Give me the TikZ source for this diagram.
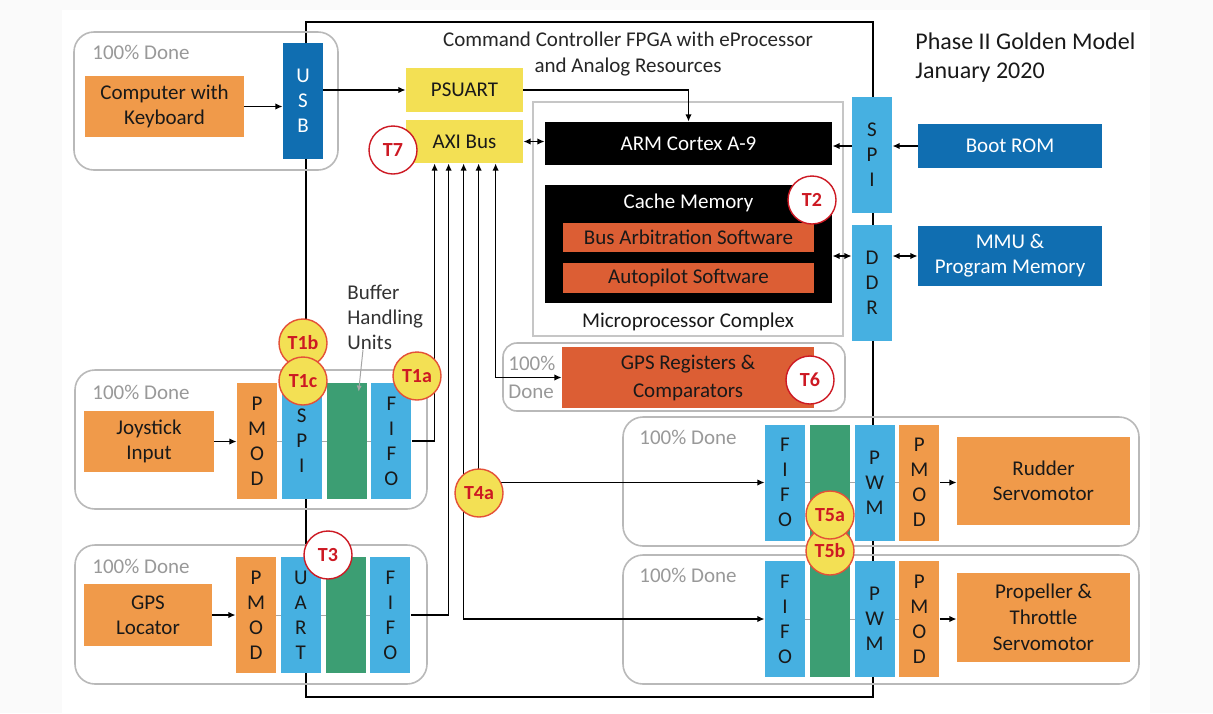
\documentclass[tikz,border=0pt]{standalone}
\usepackage{fontspec}
\setmainfont{Carlito}
\usetikzlibrary{positioning,arrows.meta,backgrounds}

\definecolor{ornge}{RGB}{240,154,74}
\definecolor{rust}{RGB}{220,94,52}
\definecolor{navy}{RGB}{16,110,177}
\definecolor{sky}{RGB}{70,176,225}
\definecolor{jade}{RGB}{60,158,115}
\definecolor{gold}{RGB}{243,224,84}
\definecolor{tred}{RGB}{205,25,35}
\definecolor{tline}{RGB}{228,80,55}
\definecolor{ink}{RGB}{25,25,25}

\begin{document}
\begin{tikzpicture}[x=0.5pt,y=-0.5pt,
		font=\fontsize{10.5}{12.5}\selectfont,text=ink,
		wh/.style 2 args={minimum width=#1*0.5pt,minimum height=#2*0.5pt,inner sep=0pt},
		blk/.style={align=center},
		hw/.style={blk,fill=ornge},
		sw/.style={blk,fill=rust},
		mem/.style={blk,fill=navy,text=white},
		cpu/.style={blk,fill=black,text=white},
		bus/.style={blk,fill=gold},
		port/.style={blk,fill=sky,wh={40}{116}},
		buf/.style={blk,fill=jade,wh={40}{116}},
		pmod/.style={port,fill=ornge},
		done/.style={draw=gray!55,line width=0.8pt,rounded corners=10pt,wh={#1}},
		pct/.style={text=gray!80,anchor=west,inner sep=0pt},
		tag/.style={circle,draw=tred,line width=0.7pt,fill=white,text=tred,
			font=\fontsize{10}{12}\selectfont\bfseries,minimum size=24pt,inner sep=0pt},
		tagy/.style={tag,fill=gold,draw=tline},
		arr/.style={line width=0.85pt,-{Latex[length=3.6pt,width=3.2pt]}},
		biarr/.style={line width=0.85pt,{Latex[length=3.6pt,width=3.2pt]}-{Latex[length=3.6pt,width=3.2pt]}},
		thru/.style={gray!70,line width=0.5pt}]
	\useasboundingbox (0,0) rectangle (1213,713);
	\begin{scope}[on background layer]
		\fill[gray!4] (0,0) rectangle (1213,713);
		\fill[white] (62,10) rectangle (1150,713);
	\end{scope}
	% FPGA outline
	\node[draw,line width=1.2pt,wh={567}{675}] (fpga) at (589.5,359.5) {};
	\node[align=center,text=black!85,font=\fontsize{10.5}{13}\selectfont] (ttl) at (628,54)
		{Command Controller FPGA with eProcessor\\and Analog Resources};
	\node[anchor=west,align=left,inner sep=0pt,font=\fontsize{12}{14.5}\selectfont] (phase) at (915,57.5)
		{Phase II Golden Model\\January 2020};
	% Groups
	\node[done,wh={264}{138}] (g0) at (206,101) {};
	\node[done,wh={352}{139}] (g1) at (251,439.5) {};
	\node[done,wh={352}{139}] (g2) at (251,614.5) {};
	\node[done,wh={342}{68},rounded corners=7pt] (g3) at (674,377) {};
	\node[done,wh={516}{129}] (g4) at (881,481.5) {};
	\node[done,wh={516}{129}] (g5) at (881,619.5) {};
	\node[pct] (p0) at (92,52) {100\% Done};
	\node[pct] (p1) at (92,392) {100\% Done};
	\node[pct] (p2) at (92,566) {100\% Done};
	\node[pct,align=left,font=\fontsize{10.5}{14}\selectfont] (p3) at (508,377) {100\%\\Done};
	\node[pct] (p4) at (639,437) {100\% Done};
	\node[pct] (p5) at (639,575) {100\% Done};
	% Processor side
	\node[hw,wh={159}{61}] (comp) at (164.5,106.5) {Computer with\\Keyboard};
	\node[mem,wh={40}{116}] (usb) at (303,101) {U\\S\\B};
	\node[bus,wh={117}{44}] (psuart) at (464.5,90) {PSUART};
	\node[bus,wh={117}{43}] (axi) at (464.5,141.5) {AXI Bus};
	\node[draw=gray!45,line width=0.6pt,wh={310}{234}] (mpc) at (688,219) {};
	\node (mpclbl) at (688,322) {Microprocessor Complex};
	\node[cpu,wh={287}{43}] (arm) at (688.5,143.5) {ARM Cortex A-9};
	\node[cpu,wh={287}{118}] (cache) at (688.5,244) {};
	\node[text=white] (cachelbl) at (688.5,203) {Cache Memory};
	\node[sw,wh={251}{29}] (busarb) at (688.5,237.5) {Bus Arbitration Software};
	\node[sw,wh={251}{30}] (autop) at (688.5,278) {Autopilot Software};
	\node[port] (spir) at (872,155) {S\\P\\I};
	\node[port] (ddr) at (872,283) {D\\D\\R};
	\node[mem,wh={184}{44}] (boot) at (1010,146) {Boot ROM};
	\node[mem,wh={184}{60}] (mmu) at (1010,256) {MMU \&\\Program Memory};
	\node[sw,wh={252}{61},font=\fontsize{10.5}{14}\selectfont] (gpsreg) at (688,377.5) {GPS Registers \&\\Comparators};
	% Joystick chain
	\node[hw,wh={130}{61}] (joy) at (149,441.5) {Joystick\\Input};
	\node[pmod] (jpmod) at (257,441) {P\\M\\O\\D};
	\node[port,right=2pt of jpmod] (jspi) {S\\P\\I};
	\node[buf,right=2pt of jspi] (jbuf) {};
	\node[port,right=2pt of jbuf] (jfifo) {F\\I\\F\\O};
	\node[anchor=west,align=left,inner sep=0pt,text=black!80] (bufnote) at (347,317) {Buffer\\Handling\\Units};
	% GPS chain
	\node[hw,wh={128}{62}] (gps) at (148,615) {GPS\\Locator};
	\node[pmod] (gpmod) at (256,615) {P\\M\\O\\D};
	\node[port,right=2pt of gpmod] (guart) {U\\A\\R\\T};
	\node[buf,right=2pt of guart] (gbuf) {};
	\node[port,right=2pt of gbuf] (gfifo) {F\\I\\F\\O};
	% Rudder chain
	\node[port] (rfifo) at (785,482.5) {F\\I\\F\\O};
	\node[buf,right=2pt of rfifo] (rbuf) {};
	\node[port,right=2pt of rbuf] (rpwm) {P\\W\\M};
	\node[pmod,right=2pt of rpwm] (rpmod) {P\\M\\O\\D};
	\node[hw,wh={173}{88}] (rudder) at (1043.5,481) {Rudder\\Servomotor};
	% Propeller chain
	\node[port] (pfifo) at (785,619) {F\\I\\F\\O};
	\node[buf,right=2pt of pfifo] (pbuf) {};
	\node[port,right=2pt of pbuf] (ppwm) {P\\W\\M};
	\node[pmod,right=2pt of ppwm] (ppmod) {P\\M\\O\\D};
	\node[hw,wh={173}{89},font=\fontsize{10.5}{13}\selectfont] (prop) at (1043.5,617.5) {Propeller \&\\Throttle\\Servomotor};
	% Connectors
	\foreach \n/\dx in {1/29,2/43,3/58,4/73,5/90}
		\coordinate (a\n) at ([xshift=\dx*0.5pt]axi.south west);
	\draw[arr] (comp.east) -- (comp.east -| usb.west);
	\draw[arr] (usb.east |- psuart) -- (psuart.west);
	\draw[arr] (psuart.east) -| (arm.north);
	\draw[biarr] (axi.east) -- (axi.east -| arm.west);
	\draw[arr] (boot.west) -- (boot.west -| spir.east);
	\draw[arr] (spir.west |- boot) -- (arm.east |- boot);
	\draw[biarr] (mmu.west) -- (mmu.west -| ddr.east);
	\draw[biarr] (ddr.west |- mmu) -- (cache.east |- mmu);
	\draw[arr] (joy.east) -- (joy.east -| jpmod.west);
	\draw[arr] (gps.east) -- (gps.east -| gpmod.west);
	\draw[arr] (jfifo.east) -| (a1);
	\draw[arr] (gfifo.east) -| (a2);
	\draw[biarr] (a3) |- (pfifo.west);
	\draw[biarr] (a4) |- (rfifo.west);
	\draw[biarr] (a5) |- (gpsreg.west);
	\draw[arr] (rpmod.east) -- (rpmod.east -| rudder.west);
	\draw[arr] (ppmod.east) -- (ppmod.east -| prop.west);
	\draw[gray!70,line width=0.5pt,-{Latex[length=3pt,width=2.6pt]}]
		([xshift=8pt]bufnote.south west) -- ([xshift=6pt,yshift=-4.5pt]jbuf.north);
	\begin{scope}[on background layer]
		\draw[thru] (jpmod.center) -- (jfifo.center);
		\draw[thru] (gpmod.center) -- (gfifo.center);
		\draw[thru] (rfifo.center) -- (rpmod.center);
		\draw[thru] (pfifo.center) -- (ppmod.center);
	\end{scope}
	% Tags
	\node[tag] (t7) at (393,150) {T7};
	\node[tag] (t2) at (812,200) {T2};
	\node[tag] (t6) at (810,380) {T6};
	\node[tag] (t3) at (328,555) {T3};
	\node[tagy] (t1b) at (303,343) {T1b};
	\node[tagy] (t1c) at (303,381) {T1c};
	\node[tagy] (t1a) at (417,376) {T1a};
	\node[tagy] (t4a) at (479,493) {T4a};
	\node[tagy] (t5b) at (830,551) {T5b};
	\node[tagy] (t5a) at (830,515) {T5a};
\end{tikzpicture}
\end{document}
